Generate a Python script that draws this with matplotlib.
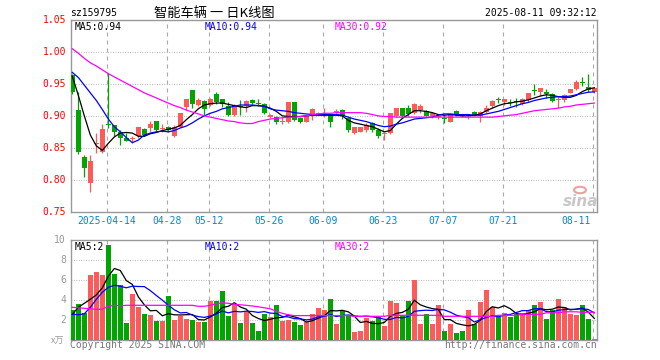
import numpy as np
import matplotlib
matplotlib.use("Agg")
import matplotlib.pyplot as plt

# daily candles, 2025-04-03 .. 2025-08-11 (index 0..87)
opens = [0.964, 0.909, 0.835, 0.795, 0.856, 0.844, 0.888, 0.885, 0.875, 0.865,
         0.863, 0.868, 0.880, 0.881, 0.892, 0.879, 0.882, 0.869, 0.883, 0.9135,
         0.940, 0.917, 0.924, 0.917, 0.934, 0.926, 0.915, 0.901, 0.9156, 0.9156,
         0.925, 0.919, 0.918, 0.898, 0.898, 0.890, 0.8896, 0.921, 0.896, 0.891,
         0.9005, 0.903, 0.902, 0.9016, 0.906, 0.9094, 0.8964, 0.873, 0.8755, 0.878,
         0.8885, 0.878, 0.871, 0.873, 0.899, 0.912, 0.913, 0.904, 0.909, 0.908,
         0.899, 0.8985, 0.8955, 0.891, 0.908, 0.901, 0.900, 0.9067, 0.9005, 0.9057,
         0.916, 0.9265, 0.921, 0.922, 0.923, 0.918, 0.925, 0.941, 0.938, 0.938,
         0.934, 0.9245, 0.925, 0.9354, 0.9417, 0.953, 0.9458, 0.938]
highs = [0.966, 0.937, 0.838, 0.838, 0.873, 0.888, 0.967, 0.885, 0.878, 0.873,
         0.868, 0.882, 0.881, 0.892, 0.892, 0.887, 0.884, 0.885, 0.905, 0.926,
         0.940, 0.928, 0.925, 0.928, 0.937, 0.927, 0.922, 0.919, 0.925, 0.925,
         0.927, 0.927, 0.920, 0.903, 0.899, 0.8975, 0.921, 0.921, 0.8985, 0.9005,
         0.913, 0.906, 0.912, 0.9016, 0.910, 0.911, 0.8975, 0.883, 0.883, 0.889,
         0.890, 0.8805, 0.8755, 0.905, 0.913, 0.912, 0.917, 0.9195, 0.918, 0.9094,
         0.9065, 0.9026, 0.901, 0.9036, 0.9094, 0.9026, 0.9036, 0.9078, 0.9078, 0.917,
         0.925, 0.930, 0.9266, 0.9266, 0.9276, 0.9276, 0.9365, 0.950, 0.944, 0.942,
         0.9365, 0.930, 0.9344, 0.942, 0.956, 0.961, 0.9656, 0.9443]
lows = [0.934, 0.841, 0.804, 0.781, 0.842, 0.842, 0.881, 0.868, 0.855, 0.860,
        0.857, 0.866, 0.868, 0.875, 0.876, 0.875, 0.875, 0.867, 0.882, 0.909,
        0.912, 0.916, 0.902, 0.916, 0.918, 0.914, 0.899, 0.899, 0.9016, 0.906,
        0.918, 0.916, 0.903, 0.896, 0.887, 0.888, 0.8885, 0.8925, 0.8885, 0.890,
        0.894, 0.901, 0.898, 0.883, 0.9026, 0.895, 0.8755, 0.872, 0.874, 0.8755,
        0.8745, 0.866, 0.8615, 0.872, 0.898, 0.898, 0.899, 0.9026, 0.904, 0.899,
        0.8964, 0.8945, 0.8885, 0.8896, 0.899, 0.8975, 0.895, 0.8995, 0.891, 0.904,
        0.912, 0.920, 0.917, 0.9156, 0.9145, 0.917, 0.9224, 0.933, 0.931, 0.9276,
        0.921, 0.912, 0.9224, 0.935, 0.9406, 0.946, 0.938, 0.935]
closes = [0.938, 0.843, 0.818, 0.830, 0.858, 0.879, 0.885, 0.874, 0.866, 0.861,
          0.864, 0.882, 0.870, 0.8875, 0.878, 0.881, 0.878, 0.883, 0.904, 0.926,
          0.918, 0.925, 0.911, 0.926, 0.921, 0.919, 0.901, 0.917, 0.9135, 0.924,
          0.920, 0.918, 0.904, 0.9015, 0.890, 0.892, 0.921, 0.894, 0.891, 0.899,
          0.910, 0.905, 0.904, 0.891, 0.907, 0.9005, 0.878, 0.882, 0.882, 0.886,
          0.878, 0.8677, 0.8725, 0.905, 0.913, 0.899, 0.9026, 0.918, 0.9156, 0.9005,
          0.904, 0.900, 0.8945, 0.9026, 0.9016, 0.899, 0.902, 0.900, 0.9067, 0.912,
          0.924, 0.925, 0.9266, 0.9205, 0.9215, 0.9266, 0.9365, 0.9395, 0.944, 0.934,
          0.9234, 0.9255, 0.933, 0.9417, 0.9536, 0.952, 0.9406, 0.943]

ma5 = [0.962, 0.932, 0.900, 0.870, 0.853, 0.846, 0.857, 0.867, 0.873, 0.874,
       0.873, 0.868, 0.868, 0.872, 0.874, 0.877, 0.879, 0.881, 0.885, 0.894,
       0.902, 0.911, 0.917, 0.919, 0.920, 0.920, 0.918, 0.916, 0.914, 0.913,
       0.916, 0.916, 0.915, 0.912, 0.907, 0.900, 0.899, 0.899, 0.899, 0.900,
       0.901, 0.901, 0.901, 0.901, 0.901, 0.900, 0.893, 0.889, 0.887, 0.885,
       0.883, 0.879, 0.875, 0.877, 0.887, 0.896, 0.902, 0.908, 0.908, 0.907,
       0.905, 0.902, 0.901, 0.902, 0.901, 0.900, 0.900, 0.901, 0.903, 0.908,
       0.912, 0.916, 0.919, 0.920, 0.922, 0.923, 0.925, 0.928, 0.931, 0.933,
       0.932, 0.930, 0.929, 0.929, 0.932, 0.938, 0.942, 0.944]
ma10 = [0.968, 0.960, 0.948, 0.936, 0.924, 0.910, 0.895, 0.883, 0.875, 0.866,
        0.858, 0.862, 0.870, 0.873, 0.875, 0.876, 0.875, 0.877, 0.881, 0.884,
        0.889, 0.895, 0.900, 0.904, 0.907, 0.911, 0.913, 0.915, 0.917, 0.917,
        0.917, 0.916, 0.915, 0.911, 0.909, 0.908, 0.907, 0.905, 0.904, 0.903,
        0.902, 0.902, 0.902, 0.902, 0.902, 0.901, 0.898, 0.895, 0.893, 0.891,
        0.888, 0.885, 0.883, 0.884, 0.887, 0.889, 0.892, 0.895, 0.896, 0.897,
        0.898, 0.901, 0.903, 0.903, 0.902, 0.902, 0.902, 0.901, 0.901, 0.903,
        0.905, 0.907, 0.910, 0.913, 0.916, 0.919, 0.921, 0.924, 0.926, 0.928,
        0.929, 0.930, 0.930, 0.931, 0.933, 0.935, 0.937, 0.9375]
ma30 = [1.005, 0.998, 0.990, 0.983, 0.978, 0.972, 0.966, 0.961, 0.956, 0.951,
        0.946, 0.941, 0.936, 0.932, 0.928, 0.924, 0.920, 0.916, 0.913, 0.909,
        0.906, 0.903, 0.900, 0.898, 0.896, 0.894, 0.892, 0.891, 0.889, 0.888,
        0.888, 0.891, 0.893, 0.895, 0.896, 0.897, 0.898, 0.898, 0.899, 0.900,
        0.902, 0.903, 0.904, 0.904, 0.905, 0.905, 0.905, 0.905, 0.905, 0.904,
        0.902, 0.900, 0.899, 0.899, 0.898, 0.898, 0.898, 0.898, 0.898, 0.898,
        0.898, 0.898, 0.898, 0.898, 0.898, 0.898, 0.898, 0.898, 0.898, 0.898,
        0.898, 0.899, 0.900, 0.901, 0.902, 0.904, 0.906, 0.908, 0.909, 0.910,
        0.911, 0.912, 0.914, 0.915, 0.917, 0.918, 0.919, 0.920]

# volume in units of 10k (万)
volume = [3.0, 3.67, 2.73, 6.5, 6.8, 6.5, 9.5, 6.6, 5.5, 1.73,
          4.6, 3.33, 2.6, 2.5, 1.93, 1.9, 4.4, 2.0, 2.4, 2.1,
          2.0, 1.83, 1.83, 3.93, 3.9, 4.93, 2.43, 3.63, 1.77, 2.8,
          1.77, 0.93, 2.63, 2.37, 3.53, 1.97, 2.03, 1.8, 1.53, 1.8,
          2.63, 3.27, 3.03, 4.13, 1.63, 2.93, 2.53, 0.87, 0.93, 2.2,
          1.93, 2.37, 1.47, 3.93, 3.73, 2.43, 3.93, 6.03, 1.63, 2.63,
          1.63, 3.53, 0.93, 1.63, 0.73, 0.93, 3.03, 1.6, 3.83, 5.03,
          3.33, 2.37, 2.73, 2.33, 2.63, 2.77, 3.03, 3.53, 3.83, 2.13,
          3.03, 4.13, 3.3, 2.63, 2.53, 3.53, 2.13, 0.13]
vol_ma5 = [2.6, 3.3, 3.7, 4.1, 4.54, 5.24, 6.41, 7.18, 6.98, 5.97,
           5.59, 4.35, 3.55, 2.95, 2.99, 2.45, 2.67, 2.55, 2.53, 2.56,
           2.58, 2.07, 2.03, 2.34, 2.70, 3.28, 3.40, 3.76, 3.33, 3.11,
           2.48, 2.18, 1.98, 2.10, 2.25, 2.29, 2.51, 2.34, 2.17, 1.83,
           1.96, 2.21, 2.45, 2.97, 2.94, 3.00, 2.85, 2.42, 1.78, 1.89,
           1.69, 1.66, 1.78, 2.38, 2.69, 2.79, 3.10, 4.01, 3.55, 3.33,
           3.17, 3.09, 2.07, 2.07, 1.69, 1.55, 1.45, 1.58, 2.02, 2.88,
           3.36, 3.23, 3.46, 3.16, 2.68, 2.57, 2.70, 2.86, 3.16, 3.06,
           3.11, 3.33, 3.28, 3.04, 3.12, 3.22, 2.82, 2.19]
vol_ma10 = [2.6, 2.55, 2.65, 3.3, 4.1, 4.8, 5.3, 5.5, 5.4, 5.25,
            5.41, 5.38, 5.37, 4.97, 4.48, 4.02, 3.51, 3.05, 2.74, 2.78,
            2.52, 2.37, 2.29, 2.43, 2.63, 2.93, 2.74, 2.90, 2.84, 2.91,
            2.88, 2.79, 2.87, 2.72, 2.68, 2.38, 2.34, 2.16, 2.14, 2.04,
            2.12, 2.36, 2.40, 2.57, 2.38, 2.48, 2.53, 2.44, 2.38, 2.42,
            2.35, 2.26, 2.10, 2.08, 2.29, 2.24, 2.38, 2.90, 2.97, 3.01,
            2.98, 3.09, 3.04, 2.81, 2.51, 2.36, 2.27, 1.83, 2.05, 2.29,
            2.46, 2.34, 2.52, 2.59, 2.78, 2.97, 2.97, 3.16, 3.16, 2.87,
            2.84, 3.01, 3.07, 3.10, 3.09, 3.17, 3.08, 2.74]
vol_ma30 = [3.3, 3.25, 3.2, 3.15, 3.1, 3.1, 3.4, 3.5, 3.45, 3.5,
            3.5, 3.5, 3.5, 3.5, 3.5, 3.5, 3.5, 3.5, 3.5, 3.5,
            3.5, 3.4, 3.4, 3.5, 3.65, 3.75, 3.7, 3.6, 3.55, 3.5,
            3.43, 3.35, 3.25, 3.15, 2.9, 2.7, 2.55, 2.47, 2.47, 2.47,
            2.47, 2.47, 2.47, 2.47, 2.47, 2.47, 2.47, 2.4, 2.4, 2.4,
            2.4, 2.4, 2.4, 2.5, 2.5, 2.5, 2.5, 2.5, 2.5, 2.5,
            2.5, 2.5, 2.4, 2.4, 2.4, 2.4, 2.4, 2.4, 2.4, 2.4,
            2.4, 2.5, 2.5, 2.5, 2.5, 2.6, 2.6, 2.6, 2.6, 2.75,
            2.75, 2.75, 2.85, 2.85, 2.85, 2.8, 2.8, 2.8]

tick_idx = [6, 16, 23, 33, 42, 52, 62, 72, 87]
tick_labels = ["2025-04-14", "04-28", "05-12", "05-26", "06-09",
               "06-23", "07-07", "07-21", "08-11"]
price_ticks = [0.75, 0.80, 0.85, 0.90, 0.95, 1.00, 1.05]
vol_ticks = [2, 4, 6, 8, 10]

RED = "#ff5a5a"
GREEN = "#00a600"
GRID = "#aaaaaa"
FRAME = "#999999"
MONO = "DejaVu Sans Mono"

W, H = 660, 360
fig = plt.figure(figsize=(W / 100, H / 100), dpi=100)


def fx(px):
    return px / W


def fy(py):
    return 1 - py / H


ax = fig.add_axes([fx(70.7), fy(211.7), fx(596.7) - fx(70.7), fy(20) - fy(211.7)])
axv = fig.add_axes([fx(70.7), fy(340.3), fx(596.7) - fx(70.7), fy(240.3) - fy(340.3)])

n = len(closes)
x = np.arange(n)
o = np.array(opens)
c = np.array(closes)
up = c >= o
cols = np.where(up, RED, GREEN)

for a in (ax, axv):
    a.set_xlim(-0.27, 87.4)
    for s in a.spines.values():
        s.set_color(FRAME)
        s.set_linewidth(1.0)
    a.set_xticks([])
    a.set_yticks([])
    for t in tick_idx:
        a.axvline(t - 0.27, color=GRID, lw=0.8, ls=(0, (3.6, 3.6)), zorder=1)

ax.set_ylim(0.75, 1.05)
axv.set_ylim(0, 10)

for p in price_ticks[1:-1]:
    ax.axhline(p, color=GRID, lw=0.8, ls=(0, (0.7, 1.5)), zorder=1)
for v in vol_ticks[:-1]:
    axv.axhline(v, color=GRID, lw=0.8, ls=(0, (0.7, 1.5)), zorder=1)

# candles
ax.vlines(x, lows, highs, colors=cols, lw=0.9, zorder=3)
body_h = np.maximum(np.abs(c - o), 0.0016)
ax.bar(x, body_h, bottom=np.minimum(o, c), width=0.78, color=cols, lw=0, zorder=4)

ax.plot(x, ma5, color="black", lw=0.9, zorder=5)
ax.plot(x, ma10, color="#0000ff", lw=0.9, zorder=5)
ax.plot(x, ma30, color="#ff00ff", lw=0.9, zorder=5)

# volume
axv.bar(x, volume, width=0.84, color=cols, lw=0, zorder=3)
axv.plot(x, vol_ma5, color="black", lw=0.9, zorder=5)
axv.plot(x, vol_ma10, color="#0000ff", lw=0.9, zorder=5)
axv.plot(x, vol_ma30, color="#ff00ff", lw=0.9, zorder=5)

fs = 7
# price labels
for p in price_ticks:
    fig.text(fx(66), fy(20 + (1.05 - p) / 0.05 * 31.95), "%.2f" % p, color="#ff0000",
             family=MONO, fontsize=fs, ha="right", va="center")
for v in vol_ticks:
    fig.text(fx(66), fy(340.3 - v * 10), str(v), color="#999999",
             family=MONO, fontsize=fs, ha="right", va="center")
fig.text(fx(64), fy(341.5), "x万", color="#999999", family=["Noto Sans CJK SC", "DejaVu Sans"],
         fontsize=6.5, ha="right", va="center")

# date labels
for t, lab in zip(tick_idx, tick_labels):
    px = 72.3 + 6 * t - 1.6
    if t == tick_idx[-1]:
        fig.text(fx(591), fy(221.5), lab, color="#0088d0", family=MONO, fontsize=fs,
                 ha="right", va="center")
    else:
        fig.text(fx(px), fy(221.5), lab, color="#0088d0", family=MONO, fontsize=fs,
                 ha="center", va="center")

# header
fig.text(fx(70), fy(13), "sz159795", family=MONO, fontsize=fs, ha="left", va="center")
fig.text(fx(214), fy(13), "智能车辆 一 日K线图", family=["Noto Sans CJK SC", "DejaVu Sans"],
         fontsize=9.5, ha="center", va="center")
fig.text(fx(597), fy(13), "2025-08-11 09:32:12", family=MONO, fontsize=fs, ha="right", va="center")

fig.text(fx(75), fy(26.5), "MA5:%.2f" % ma5[-1], family=MONO, fontsize=fs, color="black", va="center")
fig.text(fx(205), fy(26.5), "MA10:%.2f" % ma10[-1], family=MONO, fontsize=fs, color="#0000ff", va="center")
fig.text(fx(335), fy(26.5), "MA30:%.2f" % ma30[-1], family=MONO, fontsize=fs, color="#ff00ff", va="center")

fig.text(fx(75), fy(246.5), "MA5:%d" % round(vol_ma5[-1]), family=MONO, fontsize=fs, color="black", va="center")
fig.text(fx(205), fy(246.5), "MA10:%d" % round(vol_ma10[-1] - 0.5), family=MONO, fontsize=fs, color="#0000ff", va="center")
fig.text(fx(335), fy(246.5), "MA30:%d" % round(vol_ma30[-1] - 0.5), family=MONO, fontsize=fs, color="#ff00ff", va="center")

# footer
fig.text(fx(70), fy(345.5), "Copyright 2025 SINA.COM", family=MONO, fontsize=fs, color="#777777", va="center")
fig.text(fx(597), fy(345.5), "http://finance.sina.com.cn", family=MONO, fontsize=fs, color="#777777",
         ha="right", va="center")

# sina watermark
fig.text(fx(581), fy(201), "sina", fontsize=11, fontweight="bold", style="italic",
         color="#c8c8c8", ha="center", va="center")
fig.patches.append(plt.Circle((fx(580), fy(190)), 0.009, transform=fig.transFigure,
                              fill=False, ec="#f0a0a0", lw=1.5))

fig.savefig("out.png", dpi=100)
